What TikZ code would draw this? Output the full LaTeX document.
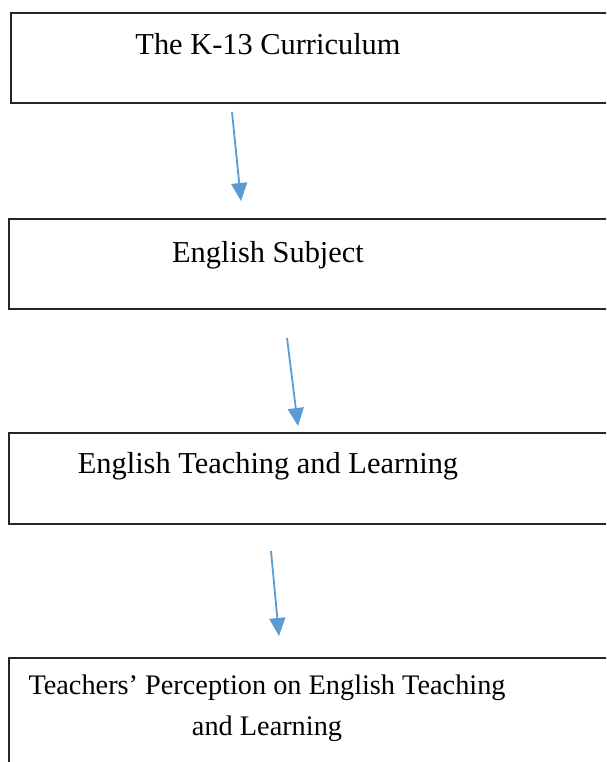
\documentclass[tikz,border=0pt]{standalone}
\usepackage{fontspec}
\setmainfont{Liberation Serif}
\usetikzlibrary{arrows.meta}
\definecolor{flowblue}{HTML}{5B9BD5}
\tikzset{
  stagebox/.style={draw=black!85, line width=2pt, inner sep=0pt, anchor=north west, minimum width=640pt},
  stagetext/.style={anchor=base, inner sep=0pt, align=center, font=\fontsize{30.4}{42}\selectfont},
  flow/.style={draw=flowblue, line width=1.8pt, -{Triangle[length=18pt,width=16pt]}}
}
\begin{document}
\begin{tikzpicture}[x=1pt,y=-1pt]
  \clip (0,0) rectangle (606,762);
  \node[stagebox, minimum height=90pt] (curr) at (9.5,12) {};
  \node[stagebox, minimum height=90pt] (subj) at (7.5,218) {};
  \node[stagebox, minimum height=91pt] (teach) at (7.5,432) {};
  \node[stagebox, minimum height=150pt] (perc) at (8,657) {};
  \node[stagetext] (currtxt) at (268,55) {The K-13 Curriculum};
  \node[stagetext] (subjtxt) at (268,262) {English Subject};
  \node[stagetext] (teachtxt) at (268,473) {English Teaching and Learning};
  \node[stagetext, font=\fontsize{28.3}{41}\selectfont] (perctxt) at (267,735) {Teachers’ Perception on English Teaching\\and Learning};
  \coordinate (c1) at (232,112);
  \coordinate (s1) at (241,201);
  \coordinate (c2) at (287,338);
  \coordinate (s2) at (298,426);
  \coordinate (c3) at (271,551);
  \coordinate (s3) at (279,636);
  \draw[flow] (c1) -- (s1);
  \draw[flow] (c2) -- (s2);
  \draw[flow] (c3) -- (s3);
\end{tikzpicture}
\end{document}
